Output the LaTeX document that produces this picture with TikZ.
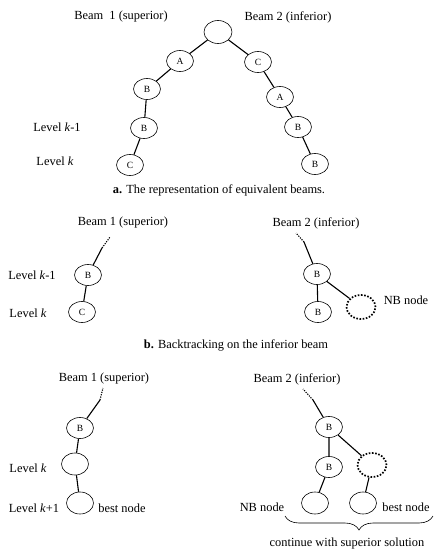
\documentclass[tikz,border=0pt]{standalone}
\usepackage{fontspec}
\setmainfont{Liberation Serif}
\usetikzlibrary{shapes.geometric,decorations.pathreplacing}
\begin{document}
\begin{tikzpicture}[x=1pt,y=-1pt,
  txt/.style={font=\fontsize{12.4}{14}\selectfont, inner sep=0pt},
  nd/.style={draw, ellipse, line width=0.6pt, minimum width=27pt, minimum height=21pt, inner sep=0pt, font=\fontsize{9.5}{10}\selectfont},
  nbnode/.style={draw, ellipse, line width=1.7pt, dash pattern=on 1.6pt off 1.6pt, minimum width=29pt, minimum height=24pt, inner sep=0pt},
  edge/.style={line width=1.1pt},
  stub/.style={line width=1.1pt, dash pattern=on 1.2pt off 1.2pt}]
\useasboundingbox (0,0) rectangle (440,550);
% ---------- panel a ----------
\node[txt] (a1) at (121,17) {Beam\ \ 1 (superior)};
\node[txt] (a2) at (288,17) {Beam 2 (inferior)};
\node[nd, minimum width=28pt, minimum height=23pt] (r) at (218,32) {};
\node[nd] (aA) at (180,61) {A};
\node[nd] (aC) at (258,62) {C};
\node[nd] (aB1) at (147,89) {B};
\node[nd] (aA2) at (280,97) {A};
\node[nd] (aB2) at (144,128) {B};
\node[nd] (aB3) at (298,127) {B};
\node[nd] (aC2) at (130,165) {C};
\node[nd] (aB4) at (315,164) {B};
\draw[edge] (r) -- (aA) (aA) -- (aB1) (aB1) -- (aB2) (aB2) -- (aC2);
\draw[edge] (r) -- (aC) (aC) -- (aA2) (aA2) -- (aB3) (aB3) -- (aB4);
\node[txt] (alk1) at (57,127) {Level \textit{k}-1};
\node[txt] (alk) at (55,161) {Level \textit{k}};
\node[txt] (acap) at (219,190) {\textbf{a.} The representation of equivalent beams.};
% ---------- panel b ----------
\node[txt] (b1) at (123,223) {Beam 1 (superior)};
\node[txt] (b2) at (316,223) {Beam 2 (inferior)};
\node[nd] (bB) at (88,275) {B};
\node[nd] (bC) at (82,312) {C};
\coordinate (bs1) at (102,248);
\coordinate (bs2) at (110,237);
\draw[edge] (bB) -- (bs1);
\draw[stub] (bs1) -- (bs2);
\draw[edge] (bB) -- (bC);
\node[txt] (blk1) at (32,275) {Level \textit{k}-1};
\node[txt] (blk) at (28,313) {Level \textit{k}};
\node[nd] (bR1) at (317,274) {B};
\node[nd] (bR2) at (318,312) {B};
\node[nbnode] (bNB) at (361,307) {};
\coordinate (bt1) at (304,242);
\coordinate (bt2) at (296,233);
\draw[edge] (bR1) -- (bt1);
\draw[stub] (bt1) -- (bt2);
\draw[edge] (bR1) -- (bR2);
\draw[edge] (bR1) -- (bNB);
\node[txt] (bnbl) at (406,300) {NB node};
\node[txt] (bcap) at (236,345) {\textbf{b.} Backtracking on the inferior beam};
% ---------- panel c ----------
\node[txt] (c1) at (104,379) {Beam 1 (superior)};
\node[txt] (c2) at (297,379) {Beam 2 (inferior)};
\node[nd] (cB) at (80,428) {B};
\node[nd, minimum height=22pt] (cE1) at (75,464) {};
\node[nd, minimum height=22pt] (cE2) at (80,503) {};
\coordinate (cs1) at (100,400);
\coordinate (cs2) at (103,388);
\draw[edge] (cB) -- (cs1);
\draw[stub] (cs1) -- (cs2);
\draw[edge] (cB) -- (cE1) (cE1) -- (cE2);
\node[txt] (clk) at (28,468) {Level \textit{k}};
\node[txt] (clk1) at (34,508) {Level \textit{k}+1};
\node[txt] (cbest) at (122,508) {best node};
\node[nd] (cR1) at (329,427) {B};
\node[nd] (cR2) at (329,467) {B};
\node[nbnode] (cNB) at (372,465) {};
\node[nd, minimum height=22pt] (cR3) at (315,503) {};
\node[nd, minimum height=22pt] (cR4) at (363,503) {};
\coordinate (ct1) at (313,400);
\coordinate (ct2) at (303,389);
\draw[edge] (cR1) -- (ct1);
\draw[stub] (ct1) -- (ct2);
\draw[edge] (cR1) -- (cR2) (cR2) -- (cR3) (cR1) -- (cNB) (cNB) -- (cR4);
\node[txt] (cnbl) at (262,507) {NB node};
\node[txt] (cbestr) at (406,507) {best node};
\coordinate (brl) at (285,516);
\coordinate (brr) at (433,516);
\draw[line width=0.6pt, decorate, decoration={brace, mirror, amplitude=14pt}] (brl) -- (brr);
\node[txt, anchor=base] (ccont) at (347,546) {continue with superior solution};
\end{tikzpicture}
\end{document}
